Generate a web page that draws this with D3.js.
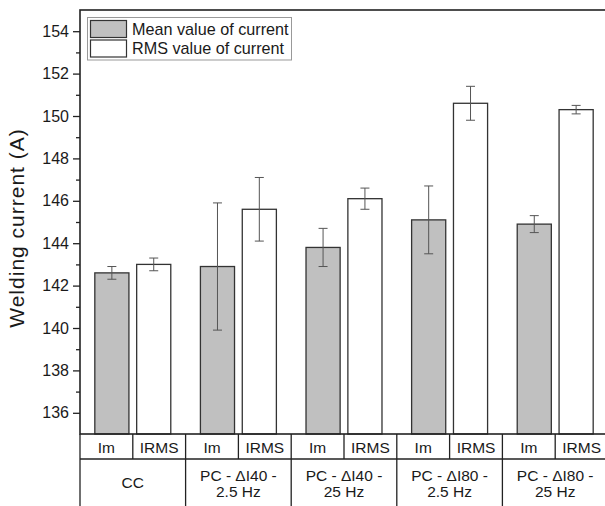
<!DOCTYPE html>
<html>
<head>
<meta charset="utf-8">
<script src="https://cdn.jsdelivr.net/npm/d3@7"></script>
<style>
  html, body { margin: 0; padding: 0; background: #fff; }
  svg { display: block; font-family: "Liberation Sans", Arial, sans-serif; }
</style>
</head>
<body>
<svg id="chart" width="605" height="506"></svg>
<script>
// Welding current per process condition: mean (Im) and RMS (IRMS) values with error bars
const categories = ["CC", "PC - ΔI40 - 2.5 Hz", "PC - ΔI40 - 25 Hz", "PC - ΔI80 - 2.5 Hz", "PC - ΔI80 - 25 Hz"];
const categoryLines = [["CC"], ["PC - ΔI40 -", "2.5 Hz"], ["PC - ΔI40 -", "25 Hz"], ["PC - ΔI80 -", "2.5 Hz"], ["PC - ΔI80 -", "25 Hz"]];
const seriesKeys = ["Im", "IRMS"];
const seriesNames = ["Mean value of current", "RMS value of current"];
const meanValues = [142.6, 142.9, 143.8, 145.1, 144.9];
const meanErrors = [0.3, 3.0, 0.9, 1.6, 0.4];
const rmsValues = [143.0, 145.6, 146.1, 150.6, 150.3];
const rmsErrors = [0.3, 1.5, 0.5, 0.8, 0.2];
const yTicks = [136, 138, 140, 142, 144, 146, 148, 150, 152, 154];
const yMinorTicks = [137, 139, 141, 143, 145, 147, 149, 151, 153];

const fills = { Im: "#c0c0c0", IRMS: "#ffffff" };

const svg = d3.select("#chart");
const plotLeft = 80, plotRight = 608, plotTop = 10, plotBottom = 434;
const row1 = 459, row2 = 510;

const y = d3.scaleLinear().domain([135, 155]).range([plotBottom, plotTop]);
const x0 = d3.scaleBand().domain(categories).range([plotLeft, plotRight]).padding(0);
const x1 = d3.scaleBand().domain(seriesKeys).range([0, x0.bandwidth()])
  .paddingInner(0.185).paddingOuter(0.354);

const rows = categories.map((c, i) => ({
  cat: c,
  items: [
    { key: "Im", value: meanValues[i], err: meanErrors[i] },
    { key: "IRMS", value: rmsValues[i], err: rmsErrors[i] }
  ]
}));

// bars
const groups = svg.append("g").selectAll("g").data(rows).join("g")
  .attr("transform", d => `translate(${x0(d.cat)},0)`);

groups.selectAll("rect").data(d => d.items).join("rect")
  .attr("x", d => x1(d.key))
  .attr("y", d => y(d.value))
  .attr("width", x1.bandwidth())
  .attr("height", d => y(135) - y(d.value))
  .attr("fill", d => fills[d.key])
  .attr("stroke", "#333")
  .attr("stroke-width", 1.3);

// error bars
const eb = groups.selectAll("g.err").data(d => d.items).join("g").attr("class", "err")
  .attr("stroke", "#555").attr("stroke-width", 1);
eb.append("line")
  .attr("x1", d => x1(d.key) + x1.bandwidth() / 2)
  .attr("x2", d => x1(d.key) + x1.bandwidth() / 2)
  .attr("y1", d => y(d.value + d.err))
  .attr("y2", d => y(d.value - d.err));
[1, -1].forEach(sign => {
  eb.append("line")
    .attr("x1", d => x1(d.key) + x1.bandwidth() / 2 - 4.5)
    .attr("x2", d => x1(d.key) + x1.bandwidth() / 2 + 4.5)
    .attr("y1", d => y(d.value + sign * d.err))
    .attr("y2", d => y(d.value + sign * d.err));
});

// y axis
const yAxis = d3.axisLeft(y).tickValues(yTicks).tickSize(7).tickPadding(4).tickSizeOuter(0);
const ya = svg.append("g").attr("transform", `translate(${plotLeft},0)`).call(yAxis);
ya.select(".domain").remove();
ya.selectAll(".tick line").attr("stroke", "#222").attr("stroke-width", 1.3);
ya.selectAll(".tick text").attr("font-size", 16).attr("fill", "#1a1a1a")
  .attr("font-family", "Liberation Sans, Arial, sans-serif");
const yMinor = d3.axisLeft(y).tickValues(yMinorTicks).tickSize(4).tickFormat("");
const ym = svg.append("g").attr("transform", `translate(${plotLeft},0)`).call(yMinor);
ym.select(".domain").remove();
ym.selectAll(".tick line").attr("stroke", "#222").attr("stroke-width", 1.3);

// plot frame
svg.append("rect")
  .attr("x", plotLeft).attr("y", plotTop)
  .attr("width", plotRight - plotLeft).attr("height", plotBottom - plotTop)
  .attr("fill", "none").attr("stroke", "#222").attr("stroke-width", 1.6);

// y title
svg.append("text")
  .attr("transform", `translate(24,${(plotTop + plotBottom) / 2 + 6}) rotate(-90)`)
  .attr("text-anchor", "middle")
  .attr("font-size", 21)
  .attr("letter-spacing", 1.0)
  .attr("fill", "#1a1a1a")
  .text("Welding current (A)");

// category table below the axis
const table = svg.append("g").attr("stroke", "#222").attr("stroke-width", 1.3);
table.append("line").attr("x1", plotLeft).attr("x2", plotRight).attr("y1", row1).attr("y2", row1);
table.append("line").attr("x1", plotLeft).attr("x2", plotRight).attr("y1", row2).attr("y2", row2);
table.append("line").attr("x1", plotLeft).attr("x2", plotLeft).attr("y1", plotBottom).attr("y2", row2);
rows.forEach(r => {
  const gx = x0(r.cat);
  table.append("line").attr("x1", gx + x0.bandwidth()).attr("x2", gx + x0.bandwidth())
    .attr("y1", plotBottom).attr("y2", row2);
  table.append("line").attr("x1", gx + x0.bandwidth() / 2).attr("x2", gx + x0.bandwidth() / 2)
    .attr("y1", plotBottom).attr("y2", row1);
});

const labels = svg.append("g").attr("font-size", 15.5).attr("fill", "#1a1a1a").attr("text-anchor", "middle");
rows.forEach((r, i) => {
  const gx = x0(r.cat);
  seriesKeys.forEach((k, j) => {
    labels.append("text")
      .attr("x", gx + x0.bandwidth() / 4 + j * x0.bandwidth() / 2)
      .attr("y", 452.5)
      .text(k);
  });
  const lines = categoryLines[i];
  const t = labels.append("text").attr("x", gx + x0.bandwidth() / 2)
    .attr("y", lines.length === 1 ? 488 : 481);
  lines.forEach((ln, k) => {
    t.append("tspan").attr("x", gx + x0.bandwidth() / 2).attr("dy", k === 0 ? 0 : 16).text(ln);
  });
});

// legend
const legend = svg.append("g");
legend.append("rect").attr("x", 87.5).attr("y", 17.5).attr("width", 204).attr("height", 42.5)
  .attr("fill", "#fff").attr("stroke", "#999").attr("stroke-width", 1);
seriesKeys.forEach((k, i) => {
  legend.append("rect").attr("x", 90.5).attr("y", 20.5 + i * 19.5).attr("width", 36).attr("height", 17)
    .attr("fill", fills[k]).attr("stroke", "#333").attr("stroke-width", 1.2);
  legend.append("text").attr("x", 132).attr("y", 34.5 + i * 19.5)
    .attr("font-size", 16.2).attr("fill", "#1a1a1a").text(seriesNames[i]);
});
</script>
</body>
</html>
